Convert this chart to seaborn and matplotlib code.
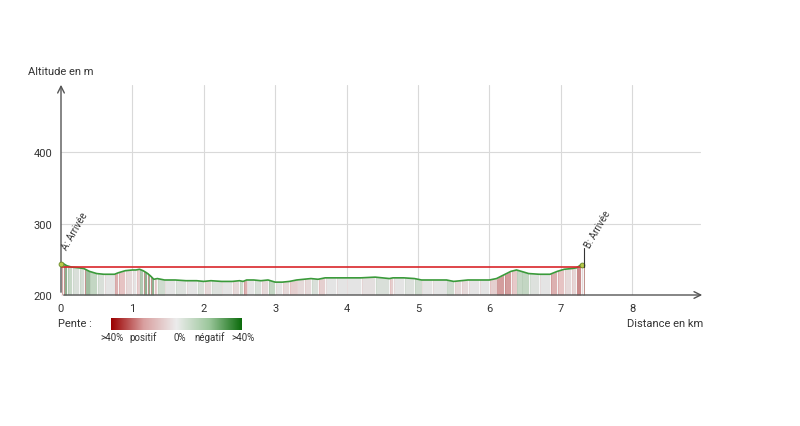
import numpy as np
import pandas as pd
import matplotlib
matplotlib.use("Agg")
import matplotlib.pyplot as plt
from matplotlib.colors import LinearSegmentedColormap
import seaborn as sns

# ── Data ─────────────────────────────────────────────────────────────────────
distance_km = [0.00, 0.03, 0.08, 0.15, 0.25, 0.32, 0.40, 0.50, 0.60, 0.75,
               0.80, 0.90, 1.00, 1.05, 1.10, 1.15, 1.20, 1.25, 1.30, 1.35,
               1.45, 1.60, 1.75, 1.90, 2.00, 2.10, 2.25, 2.40, 2.50, 2.55,
               2.60, 2.70, 2.80, 2.90, 3.00, 3.10, 3.20, 3.30, 3.40, 3.50,
               3.60, 3.70, 3.85, 4.00, 4.20, 4.40, 4.60, 4.65, 4.80, 4.95,
               5.05, 5.20, 5.40, 5.50, 5.60, 5.70, 5.85, 6.00, 6.10, 6.20,
               6.30, 6.38, 6.45, 6.55, 6.70, 6.85, 6.95, 7.05, 7.15, 7.22,
               7.28, 7.31, 7.33]
altitude_m = [243, 244, 241, 239, 238, 237, 233, 230, 229, 229,
              231, 234, 235, 235, 236, 234, 231, 227, 222, 223,
              221, 221, 220, 220, 219, 220, 219, 219, 220, 219,
              221, 221, 220, 221, 218, 218, 219, 221, 222, 223,
              222, 224, 224, 224, 224, 225, 223, 224, 224, 223,
              221, 221, 221, 219, 220, 221, 221, 221, 223, 228,
              233, 235, 233, 230, 229, 229, 233, 236, 237, 238,
              242, 242, 239]
reference_alt = 239
start_label = "A: Arrivée"
end_label = "B: Arrivée"
x_ticks = [0, 1, 2, 3, 4, 5, 6, 7, 8]
y_ticks = [200, 300, 400]
legend_labels = [">40%", "positif", "0%", "négatif", ">40%"]

df = pd.DataFrame({"km": distance_km, "alt": altitude_m})

# ── Style ────────────────────────────────────────────────────────────────────
sns.set_theme(style="white")
plt.rcParams["font.family"] = ["Roboto", "DejaVu Sans"]
TXT = "#333333"
GRID = "#d9d9d9"

legend_cmap = LinearSegmentedColormap.from_list(
    "pente", ["#9b0000", "#d9a0a0", "#ececec", "#9cc79c", "#0b6b0b"])
# muted version used for the area under the profile
fill_cmap = LinearSegmentedColormap.from_list(
    "pente_fill", ["#c98a8a", "#e6c4c4", "#e4e4e4", "#c4d6c4", "#8fb08f"])

fig = plt.figure(figsize=(8, 4.27), dpi=100)
ax = fig.add_axes([61 / 800, 1 - 296 / 427, 644 / 800, 213 / 427])
ax.set_xlim(0, 9.02)
ax.set_ylim(200, 498)

# grid
for x in x_ticks[1:]:
    ax.plot([x, x], [200, 494], color=GRID, lw=0.8, zorder=0)
for y in y_ticks[1:]:
    ax.plot([0, 8.95], [y, y], color=GRID, lw=0.8, zorder=0)

# slope-coloured fill under the profile
km = df["km"].to_numpy()
alt = df["alt"].to_numpy()
for i in range(len(km) - 1):
    slope = (alt[i + 1] - alt[i]) / ((km[i + 1] - km[i]) * 1000) * 100
    v = 0.5 - np.clip(slope / 12, -0.5, 0.5)
    ax.fill_between(km[i:i + 2], 200, alt[i:i + 2], color=fill_cmap(v),
                    lw=0, zorder=1)
    ax.plot([km[i], km[i]], [200, alt[i]], color="#f7f7f7", lw=0.7,
            zorder=1)
    ax.plot([km[i] + 0.012, km[i] + 0.012], [200, alt[i]],
            color=fill_cmap(min(1, v + 0.1) if v > 0.5 else max(0, v - 0.1)),
            lw=0.6, zorder=1)

sns.lineplot(data=df, x="km", y="alt", ax=ax, color="#3a9a3a", lw=1.2,
             zorder=3, estimator=None, sort=False)
ax.plot([0, km[-1]], [reference_alt, reference_alt], color="#d9262b",
        lw=1.2, zorder=4)

# start / end markers
ax.plot([0], [alt[0]], "o", ms=3.5, mfc="#b7c84a", mec="#6a8a2a", mew=0.6,
        zorder=5, clip_on=False)
ax.plot([km[-1] - 0.03], [alt[-2]], "o", ms=3.5, mfc="#b7c84a",
        mec="#6a8a2a", mew=0.6, zorder=5)
ax.plot([km[-1], km[-1]], [reference_alt, 266], color=TXT, lw=0.8, zorder=5)
ax.text(0.11, 262, start_label, rotation=60, fontsize=7, color=TXT,
        ha="left", va="bottom", rotation_mode="anchor")
ax.text(km[-1] + 0.11, 264, end_label, rotation=60, fontsize=7, color=TXT,
        ha="left", va="bottom", rotation_mode="anchor")

# axes with arrows
for s in ax.spines.values():
    s.set_visible(False)
ax.annotate("", xy=(9.02, 200), xytext=(0, 200),
            arrowprops=dict(arrowstyle="->", color="#555555", lw=1.0),
            annotation_clip=False)
ax.annotate("", xy=(0, 498), xytext=(0, 200),
            arrowprops=dict(arrowstyle="->", color="#555555", lw=1.0),
            annotation_clip=False)

ax.set_xticks(x_ticks)
ax.set_yticks(y_ticks)
ax.tick_params(axis="both", length=3, width=0.8, colors="#555555",
               labelcolor=TXT, labelsize=8, pad=3)
ax.set_xlabel("")
ax.set_ylabel("")

fig.text(28 / 800, 1 - 72 / 427, "Altitude en m", fontsize=8, color=TXT,
         va="center", ha="left")
fig.text(627 / 800, 1 - 324 / 427, "Distance en km", fontsize=8, color=TXT,
         va="center", ha="left")

# slope legend
fig.text(58 / 800, 1 - 324 / 427, "Pente :", fontsize=8, color=TXT,
         va="center", ha="left")
cax = fig.add_axes([111 / 800, 1 - 331 / 427, 131 / 800, 12 / 427])
cax.imshow(np.linspace(0, 1, 256)[None, :], aspect="auto", cmap=legend_cmap)
cax.set_axis_off()
for xpos, lab in zip([112, 143, 180, 210, 243], legend_labels):
    fig.text(xpos / 800, 1 - 338 / 427, lab, fontsize=7, color=TXT,
             va="center", ha="center")

fig.savefig("out.png", dpi=100)
